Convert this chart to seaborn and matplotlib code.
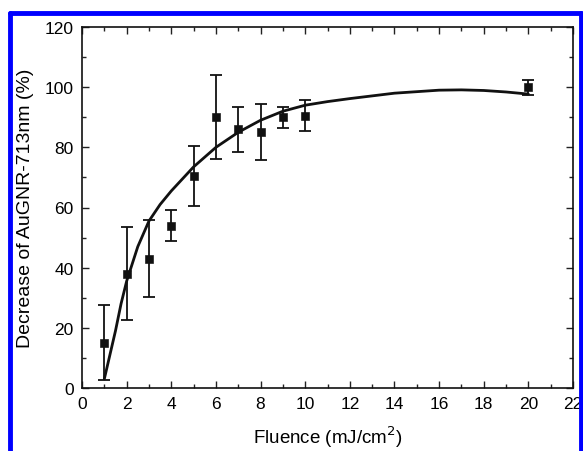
import matplotlib
matplotlib.use("Agg")
import matplotlib.pyplot as plt
import seaborn as sns
import pandas as pd
from matplotlib.lines import Line2D
from matplotlib.ticker import MultipleLocator

# measured points
fluence = [1, 2, 3, 4, 5, 6, 7, 8, 9, 10, 20]
decrease = [15, 38, 43, 54, 70.5, 90, 86, 85, 90, 90.5, 100]
err = [12.5, 15.5, 12.8, 5.3, 10, 14, 7.5, 9.3, 3.5, 5.2, 2.5]

# fitted curve
fit_x = [1, 1.25, 1.5, 1.75, 2, 2.5, 3, 3.5, 4, 5, 6, 7, 8, 9, 10, 11, 12, 14, 16, 17, 18, 19, 20]
fit_y = [3, 11, 19, 28, 35.5, 47, 55.5, 61, 65.5, 73.5, 80, 85, 89, 92, 94, 95.2, 96.2, 98, 99, 99.1, 98.9, 98.4, 97.7]

sns.set_style("ticks")
plt.rcParams['font.family'] = ['Liberation Sans', 'DejaVu Sans']
for k in ["text.color", "axes.labelcolor", "xtick.color", "ytick.color"]:
    plt.rcParams[k] = "black"

fig = plt.figure(figsize=(5.83, 4.52), dpi=100)
ax = fig.add_axes([82 / 583, 63 / 452, 491 / 583, 361 / 452])

pts = pd.DataFrame({"x": fluence, "y": decrease})
fit = pd.DataFrame({"x": fit_x, "y": fit_y})

sns.lineplot(data=fit, x="x", y="y", color="#111111", linewidth=2, ax=ax)
ax.errorbar(fluence, decrease, yerr=err, fmt="none", ecolor="#111111",
            elinewidth=1.3, capsize=4, capthick=1.3)
sns.scatterplot(data=pts, x="x", y="y", marker="s", color="#111111", s=30,
                edgecolor="#111111", ax=ax, zorder=5)

ax.set_xlim(0, 22)
ax.set_ylim(0, 120)
ax.xaxis.set_major_locator(MultipleLocator(2))
ax.xaxis.set_minor_locator(MultipleLocator(1))
ax.yaxis.set_major_locator(MultipleLocator(20))
ax.yaxis.set_minor_locator(MultipleLocator(10))
ax.tick_params(which="both", direction="in", top=True, right=True,
               labelsize=12.5, color="#222222", width=1)
ax.tick_params(which="major", length=5, pad=6)
ax.tick_params(which="minor", length=3)
for s in ax.spines.values():
    s.set_linewidth(1.2)
    s.set_color("#111111")

ax.set_xlabel("Fluence (mJ/cm$^2$)", fontsize=13.5, labelpad=9)
ax.set_ylabel("Decrease of AuGNR-713nm (%)", fontsize=14, labelpad=8)

# blue frame around the figure (open at the bottom)
blue = "#0000ff"
lx, rx, ty = 10 / 583, 580.5 / 583, 1 - 14 / 452
fig.add_artist(Line2D([lx, lx], [0, ty], color=blue, linewidth=3.5, transform=fig.transFigure))
fig.add_artist(Line2D([rx, rx], [0, ty], color=blue, linewidth=3.5, transform=fig.transFigure))
fig.add_artist(Line2D([lx, rx], [ty, ty], color=blue, linewidth=3.5, transform=fig.transFigure))

fig.savefig("out.png", dpi=100)
